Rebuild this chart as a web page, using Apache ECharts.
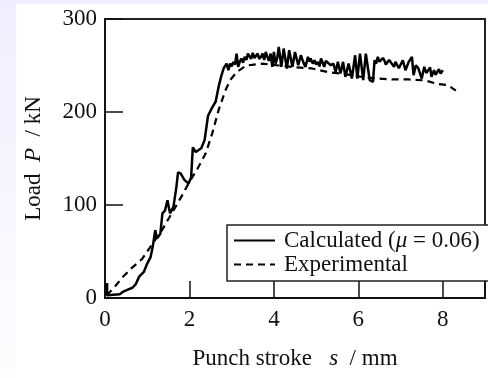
<!DOCTYPE html>
<html>
<head>
<meta charset="utf-8">
<script src="https://cdn.jsdelivr.net/npm/echarts@6/dist/echarts.min.js"></script>
<style>
html,body{margin:0;padding:0;overflow:hidden;background:#fff;}
#c{width:488px;height:378px;}
</style>
</head>
<body>
<div id="c"></div>
<script>
// ---- data ----
const seriesNames = ['Calculated (μ = 0.06)', 'Experimental'];
const xTicks = [0, 2, 4, 6, 8];
const yTicks = [0, 100, 200, 300];

const calcS = [0.05,0.05,0.35,0.42,0.54,0.65,0.73,0.81,0.92,1.00,1.08,1.13,1.19,1.23,1.31,1.36,1.42,1.48,1.54,1.62,1.69,1.73,1.79,1.88,1.98,2.04,2.08,2.15,2.28,2.36,2.44,2.54,2.62,2.69,2.75,2.81,
  2.846,2.88,2.923,2.962,3.00,3.039,3.08,3.116,3.154,3.19,3.231,3.27,3.308,3.35,3.385,3.423,3.46,3.500,3.54,3.577,3.616,3.65,3.693,3.731,3.77,3.808,3.846,3.88,3.923,3.962,4.000,4.039,4.08,4.116,4.177,4.231,4.308,4.362,4.439,4.500,4.577,4.639,4.693,4.747,4.808,4.84,4.870,4.92,4.962,5.00,5.039,5.08,5.116,5.193,5.23,5.270,5.347,5.408,5.462,5.516,5.577,5.639,5.693,5.770,5.847,5.924,5.977,6.039,6.116,6.177,6.270,6.347,6.385,6.42,6.462,6.50,6.539,6.58,6.616,6.65,6.693,6.73,6.770,6.847,6.88,6.924,6.96,7.000,7.054,7.116,7.193,7.270,7.308,7.362,7.424,7.501,7.562,7.61,7.655,7.70,7.732,7.793,7.83,7.870,7.91,7.947,8.001];
const calcP = [16,3,4,6.5,9,11,15,23,28,37,44,55,73,64,69,91,94,105,91,98,119,135,134,127,123,130,162,157,161,170,196,205,211,227,238,247,
  248.5,252,244.9,252.1,249,253.9,251,262.8,248.5,254,257.5,253,259.3,256,262.8,261.0,257,263.6,258,259.3,262.8,257,259.3,262.8,256,264.6,259.3,255,262.8,248.5,264.6,252.1,258,270.0,248.5,268.2,246.7,266.4,248.5,264.6,250.3,261.0,253.9,248.5,259.3,254,257.5,252,255.7,251,253.9,249,257.5,248.5,255,253.9,250.3,252.1,243.1,253.9,241.3,253.9,237.8,252.1,236.0,261.0,236.0,262.8,234.2,262.8,234.2,232.4,255.7,252,259.3,254,253.9,258,255.7,251,252.1,256,253.9,248.5,254,252.1,247,246.7,255.7,244.9,253.9,259.3,239.5,250.3,246.7,236.0,248.5,242,243.1,248,237.8,244.9,240,243.1,246,241.3,244.9];

const expS = [0.04,0.23,0.42,0.65,0.88,1.12,1.35,1.58,1.81,2.00,2.19,2.38,2.54,2.69,2.85,2.96,3.12,3.35,3.73,4.12,4.50,4.88,5.27,5.65,6.04,6.42,6.81,7.19,7.58,7.88,8.12,8.31];
const expP = [3,12,22.5,33,42,58,73,91,109,125,139,155,177,202,223,234,243,250,252,250,248,247,243,241,238,236,235,235,234,230,229,223];

// ---- chart ----
const pair = (xs, ys) => xs.map((x, i) => [x, ys[i]]);
const FONT = '"Liberation Serif", "Times New Roman", serif';
const FS = 23;
const chart = echarts.init(document.getElementById('c'));
chart.setOption({
  animation: false,
  backgroundColor: 'transparent',
  graphic: [
    { type: 'rect', z: -20, shape: { x: 0, y: 0, width: 488, height: 378 },
      style: { fill: new echarts.graphic.LinearGradient(0, 0, 0, 1, [
        { offset: 0, color: '#eeeeff' }, { offset: 1, color: '#fdfdff' }]) } },
    { type: 'rect', z: -19, shape: { x: 16, y: 4, width: 472, height: 374 },
      style: { fill: '#ffffff' } }
  ],
  grid: { left: 105, right: -7, top: 19, bottom: 80, show: true,
    borderColor: '#222', borderWidth: 2, backgroundColor: 'transparent' },
  legend: {
    orient: 'vertical', left: 227, top: 225,
    padding: [4, 40, 5, 6], itemGap: 1,
    itemWidth: 41, itemHeight: 14,
    itemStyle: { opacity: 0 },
    backgroundColor: '#fff', borderColor: '#222', borderWidth: 1.5, borderRadius: 0,
    data: seriesNames,
    formatter: function (n) {
      if (n === seriesNames[0]) return '{a|Calculated (}{i|μ}{a| = 0.06)}';
      return '{a|' + n + '}';
    },
    textStyle: {
      padding: [0, 0, 0, 4],
      rich: {
        a: { fontFamily: FONT, fontSize: FS, color: '#111', lineHeight: 22 },
        i: { fontFamily: FONT, fontSize: FS, color: '#111', fontStyle: 'italic', lineHeight: 22 }
      }
    }
  },
  xAxis: {
    type: 'value', min: 0, max: 9, interval: 2,
    name: '{a|Punch stroke   }{i|s}{a|  / mm}',
    nameLocation: 'middle', nameGap: 49,
    nameTextStyle: { rich: {
      a: { fontFamily: FONT, fontSize: FS, color: '#111' },
      i: { fontFamily: FONT, fontSize: FS, color: '#111', fontStyle: 'italic' } } },
    axisLine: { lineStyle: { color: '#111', width: 2 } },
    axisTick: { inside: true, length: 17, lineStyle: { color: '#111', width: 1.5 } },
    axisLabel: { margin: 10, fontFamily: FONT, fontSize: FS, color: '#111',
      formatter: v => (xTicks.indexOf(v) >= 0 ? String(v) : '') },
    splitLine: { show: false }
  },
  yAxis: {
    type: 'value', min: 0, max: 300, interval: 100,
    name: '{a|Load  }{i|P}{a|  / kN}',
    nameLocation: 'middle', nameGap: 60, nameRotate: 90,
    nameTextStyle: { rich: {
      a: { fontFamily: FONT, fontSize: FS, color: '#111' },
      i: { fontFamily: FONT, fontSize: FS, color: '#111', fontStyle: 'italic' } } },
    axisLine: { lineStyle: { color: '#111', width: 1.5 } },
    axisTick: { inside: true, length: 18, lineStyle: { color: '#111', width: 1.5 } },
    axisLabel: { margin: 8, fontFamily: FONT, fontSize: FS, color: '#111',
      formatter: v => (yTicks.indexOf(v) >= 0 ? String(v) : '') },
    splitLine: { show: false }
  },
  series: [
    { name: seriesNames[0], type: 'line', showSymbol: false, symbol: 'none',
      data: pair(calcS, calcP),
      lineStyle: { color: '#000', width: 2.5 }, itemStyle: { color: '#000' }, z: 3 },
    { name: seriesNames[1], type: 'line', showSymbol: false, symbol: 'none',
      data: pair(expS, expP),
      lineStyle: { color: '#000', width: 2.2, type: [7, 5] }, itemStyle: { color: '#000' }, z: 2 }
  ]
});
</script>
</body>
</html>
